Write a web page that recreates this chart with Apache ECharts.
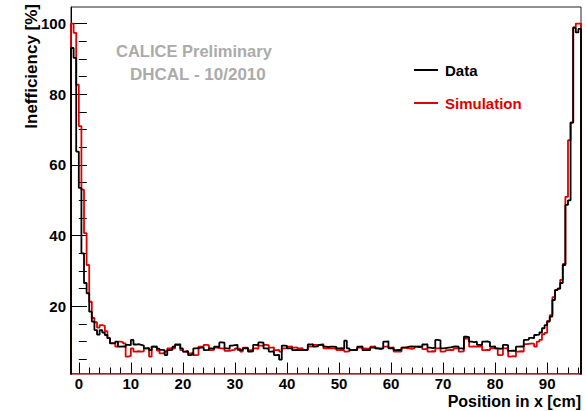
<!DOCTYPE html>
<html>
<head>
<meta charset="utf-8">
<script src="https://cdn.jsdelivr.net/npm/echarts@6/dist/echarts.min.js"></script>
<style>
  html, body { margin: 0; padding: 0; background: #fff; }
  #chart { width: 586px; height: 411px; }
</style>
</head>
<body>
<div id="chart"></div>
<script>
// Histogram binning: 0.5 cm bins starting at -1.5 cm
const xStart = -1.5;
const binWidth = 0.5;

// Inefficiency per bin [%], measured data
const dataEff = [
  93.1, 90.3, 63.8, 53.5, 35.0, 26.6, 23.7, 18.5, 15.7, 13.3,
  12.0, 13.3, 12.6, 11.9, 11.0, 9.5, 9.6, 10.0, 8.6, 8.7,
  8.5, 9.1, 9.0, 10.5, 9.2, 9.3, 9.1, 8.9, 8.1, 8.2,
  7.6, 8.6, 8.5, 8.0, 7.7, 7.6, 6.2, 7.6, 7.7, 8.6,
  9.2, 9.3, 8.1, 7.2, 7.3, 6.2, 6.4, 8.1, 8.2, 8.3,
  8.4, 7.6, 7.7, 8.1, 8.0, 8.6, 8.5, 9.8, 9.7, 8.1,
  8.0, 8.9, 9.0, 9.1, 7.7, 7.6, 8.1, 8.2, 7.2, 7.3,
  9.1, 9.0, 9.8, 9.7, 8.1, 8.0, 7.2, 7.3, 6.2, 6.3,
  4.9, 8.9, 8.8, 8.1, 8.2, 7.6, 7.7, 7.6, 7.7, 7.6,
  7.7, 9.2, 9.3, 8.6, 8.7, 9.1, 9.0, 8.6, 8.5, 8.6,
  8.6, 8.5, 8.1, 8.2, 8.0, 10.3, 8.1, 7.6, 7.7, 7.6,
  8.6, 8.7, 7.6, 7.7, 7.6, 8.3, 8.4, 8.1, 8.0, 8.1,
  10.0, 10.1, 8.1, 8.2, 7.6, 7.7, 7.6, 8.3, 8.4, 8.6,
  8.7, 8.6, 8.6, 8.5, 8.6, 9.2, 9.3, 8.3, 8.2, 8.3,
  10.5, 10.4, 8.1, 8.2, 8.3, 8.4, 8.6, 8.7, 8.6, 8.1,
  8.0, 11.4, 11.3, 10.0, 9.9, 10.0, 9.1, 9.0, 10.0, 10.1,
  9.9, 8.6, 8.7, 8.1, 8.0, 8.1, 9.1, 9.0, 7.4, 7.5,
  7.4, 8.6, 8.7, 8.6, 10.5, 10.6, 11.1, 11.0, 11.9, 12.0,
  12.6, 13.8, 14.7, 15.7, 17.1, 21.8, 24.6, 25.0, 26.6, 31.7,
  48.7, 50.0, 72.0, 98.8, 97.5, 98.5
];

// Inefficiency per bin [%], simulation
const simEff = [
  100, 97.4, 82.7, 71.0, 53.0, 40.7, 31.7, 21.3, 16.7, 15.5,
  14.0, 14.7, 14.5, 13.0, 11.0, 9.6, 9.5, 8.6, 10.0, 9.9,
  9.5, 5.8, 6.0, 8.1, 7.2, 7.3, 7.2, 7.3, 8.1, 8.2,
  5.8, 8.6, 8.7, 7.5, 6.7, 6.8, 7.2, 8.1, 8.2, 8.1,
  9.1, 9.0, 7.6, 7.2, 7.3, 6.7, 6.8, 6.2, 6.3, 8.6,
  8.7, 9.1, 9.0, 7.6, 7.7, 8.3, 8.2, 8.1, 8.0, 7.4,
  7.4, 7.6, 7.7, 8.1, 8.0, 7.2, 8.3, 8.3, 7.6, 7.7,
  8.1, 8.0, 8.9, 8.8, 9.1, 9.0, 8.3, 8.4, 7.6, 7.7,
  7.2, 8.1, 8.2, 8.6, 8.7, 8.3, 8.4, 8.1, 8.2, 7.6,
  7.7, 8.6, 8.7, 9.1, 9.0, 9.2, 9.3, 8.1, 8.2, 8.1,
  8.1, 8.0, 7.6, 7.7, 7.6, 7.2, 7.3, 7.6, 7.7, 7.6,
  8.3, 8.4, 8.1, 8.0, 8.1, 8.6, 8.7, 8.1, 8.0, 8.1,
  8.6, 8.7, 8.3, 8.4, 7.2, 7.3, 7.2, 8.3, 8.4, 8.1,
  8.0, 8.1, 8.6, 8.7, 8.6, 7.9, 8.0, 7.2, 7.3, 7.2,
  8.1, 8.2, 7.2, 7.3, 7.6, 7.7, 7.6, 8.1, 8.2, 7.2,
  7.3, 10.9, 10.8, 8.6, 8.7, 8.6, 8.6, 8.7, 7.6, 7.7,
  7.6, 8.1, 8.2, 8.0, 6.2, 6.3, 8.1, 8.2, 5.8, 5.9,
  5.8, 7.2, 7.3, 7.2, 9.3, 9.4, 9.5, 9.4, 8.6, 10.0,
  10.5, 12.1, 12.5, 15.9, 17.5, 22.6, 24.6, 25.0, 27.5, 32.0,
  51.0, 67.0, 72.0, 99.0, 100, 100
];

// Axis ranges and labelled ticks
const xRange = [-1.5, 96.5];
const yRange = [1, 104.7];
const xTickLabels = [0, 10, 20, 30, 40, 50, 60, 70, 80, 90];
const yTickLabels = [20, 40, 60, 80, 100];

// Minor ticks: every 2 cm on x, every 5 % on y
const xMinor = [];
for (let v = 2; v <= 96; v += 2) if (v % 10 !== 0) xMinor.push(v);
const yMinor = [];
for (let v = 5; v <= 100; v += 5) if (v % 20 !== 0) yMinor.push(v);

// Outline of a histogram: left edge of every bin, closed down to zero at both ends
function histOutline(values) {
  const pts = [[xStart, 0]];
  values.forEach((v, i) => pts.push([xStart + i * binWidth, v]));
  const xEnd = xStart + values.length * binWidth;
  pts.push([xEnd, values[values.length - 1]]);
  pts.push([xEnd, 0]);
  return pts;
}

const FONT = '"Liberation Sans", Arial, Helvetica, sans-serif';
const RED = '#e00000';

const chart = echarts.init(document.getElementById('chart'), null, { renderer: 'svg' });

chart.setOption({
  animation: false,
  backgroundColor: '#ffffff',
  grid: {
    left: 71, right: 5, top: 7, bottom: 37.5,
    show: true, borderColor: '#222', borderWidth: 1, backgroundColor: 'transparent'
  },
  legend: {
    left: 409, top: 56, orient: 'vertical', itemGap: 15,
    itemWidth: 24, itemHeight: 2, icon: 'rect',
    textStyle: { fontFamily: FONT, fontWeight: 'bold', fontSize: 15, lineHeight: 18, padding: [0, 0, 0, 2] },
    data: [
      { name: 'Data', textStyle: { color: '#000' } },
      { name: 'Simulation', textStyle: { color: RED } }
    ]
  },
  xAxis: [
    {
      type: 'value', min: xRange[0], max: xRange[1], position: 'bottom',
      splitLine: { show: false },
      axisLine: { show: true, onZero: false, lineStyle: { color: '#a33a3a', width: 1.5 } },
      axisTick: { show: true, inside: true, length: 11, customValues: xTickLabels, lineStyle: { color: '#000' } },
      axisLabel: {
        show: true, customValues: xTickLabels, margin: 3, lineHeight: 14,
        color: '#000', fontFamily: FONT, fontWeight: 'bold', fontSize: 15
      }
    },
    {
      type: 'value', min: xRange[0], max: xRange[1], position: 'bottom',
      splitLine: { show: false },
      axisLine: { show: false },
      axisTick: { show: true, inside: true, length: 6, customValues: xMinor, lineStyle: { color: '#000' } },
      axisLabel: { show: false }
    }
  ],
  yAxis: [
    {
      type: 'value', min: yRange[0], max: yRange[1], position: 'left',
      splitLine: { show: false },
      axisLine: { show: true, onZero: false, lineStyle: { color: '#000', width: 1 } },
      axisTick: { show: true, inside: true, length: 16, customValues: yTickLabels, lineStyle: { color: '#000' } },
      axisLabel: {
        show: true, customValues: yTickLabels, margin: 5,
        color: '#000', fontFamily: FONT, fontWeight: 'bold', fontSize: 15
      }
    },
    {
      type: 'value', min: yRange[0], max: yRange[1], position: 'left',
      splitLine: { show: false },
      axisLine: { show: false },
      axisTick: { show: true, inside: true, length: 8, customValues: yMinor, lineStyle: { color: '#000' } },
      axisLabel: { show: false }
    }
  ],
  series: [
    {
      name: 'Simulation', type: 'line', step: 'end', xAxisIndex: 0, yAxisIndex: 0,
      data: histOutline(simEff), showSymbol: false, symbol: 'none', clip: true,
      lineStyle: { color: RED, width: 1.8 }, itemStyle: { color: RED }, z: 3
    },
    {
      name: 'Data', type: 'line', step: 'end', xAxisIndex: 0, yAxisIndex: 0,
      data: histOutline(dataEff), showSymbol: false, symbol: 'none', clip: true,
      lineStyle: { color: '#000', width: 1.8 }, itemStyle: { color: '#000' }, z: 4
    }
  ],
  graphic: [
    {
      type: 'text', left: 116, top: 42,
      style: { text: 'CALICE Preliminary', fill: '#ababab', font: 'bold 16.5px ' + FONT }
    },
    {
      type: 'text', left: 130, top: 66,
      style: { text: 'DHCAL - 10/2010', fill: '#ababab', font: 'bold 17px ' + FONT }
    },
    {
      type: 'text', right: 5, top: 393,
      style: { text: 'Position in x [cm]', fill: '#000', font: 'bold 16px ' + FONT, lineHeight: 16 }
    },
    {
      type: 'text', x: 23, y: 4, rotation: Math.PI / 2,
      style: { text: 'Inefficiency [%]', fill: '#000', font: 'bold 17px ' + FONT, align: 'right', verticalAlign: 'top' }
    }
  ]
});
</script>
</body>
</html>
